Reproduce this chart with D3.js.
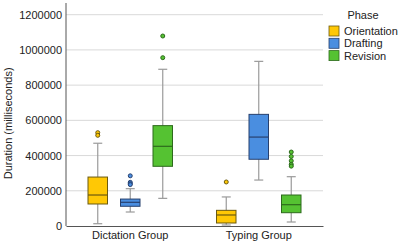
<!DOCTYPE html>
<html><head><meta charset="utf-8">
<script src="https://cdn.jsdelivr.net/npm/d3@7"></script>
<style>body{margin:0;background:#fff}svg{display:block}text{font-family:Arial,"Liberation Sans",sans-serif;fill:#222}</style>
</head><body><svg id="c" width="400" height="244"></svg>
<script>
const groups = ["Dictation Group", "Typing Group"];
const phases = ["Orientation", "Drafting", "Revision"];
const yTicks = [0, 200000, 400000, 600000, 800000, 1000000, 1200000];
// [whiskerLow, Q1, median, Q3, whiskerHigh]
const dictationStats = [
  [13000, 125000, 176000, 278000, 470000],
  [79500, 112000, 134600, 153000, 212000],
  [157000, 339000, 452600, 570000, 890000]
];
const typingStats = [
  [5700, 17000, 62500, 89000, 165000],
  [261000, 379000, 505000, 634000, 935000],
  [22700, 75500, 121000, 176000, 280000]
];
const dictationOutliers = [
  [530000, 515000],
  [285000, 248000, 240000, 235000],
  [1079000, 956000]
];
const typingOutliers = [
  [250000],
  [],
  [420000, 395000, 370000, 350000, 340000]
];
const fills = ["#FFC805", "#4A8EE0", "#55C232"];
const strokes = ["#6b5a10", "#27406e", "#2d6a1c"];

const svg = d3.select("#c");
const L = 66, R = 323, T = 14.7, B = 226;
const y = d3.scaleLinear().domain([0, 1200000]).range([B, T]);
const x = d3.scaleBand().domain(groups).range([L, R]);
const xp = d3.scalePoint().domain(phases).range([-32.5, 32.5]);
const bw = 19.5, cap = 9;

// gridlines
svg.append("g").selectAll("line").data(yTicks.filter(d => d > 0)).join("line")
  .attr("x1", L).attr("x2", R).attr("y1", d => y(d)).attr("y2", d => y(d))
  .attr("stroke", "#d9d9d9").attr("stroke-width", 1);

// y axis
const ya = svg.append("g").attr("transform", `translate(${L},0)`)
  .call(d3.axisLeft(y).tickValues(yTicks).tickFormat(d3.format("d")).tickSize(0).tickPadding(4));
ya.select(".domain").remove();
ya.selectAll("text").attr("font-size", 11).attr("font-family", "Arial, 'Liberation Sans', sans-serif").attr("fill", "#222");
svg.append("line").attr("x1", L).attr("x2", L).attr("y1", 3).attr("y2", B).attr("stroke", "#555");

// x axis
const xa = svg.append("g").attr("transform", `translate(0,${B})`)
  .call(d3.axisBottom(x).tickSize(0).tickPadding(5));
xa.select(".domain").attr("stroke", "#555");
xa.selectAll("text").attr("font-size", 11).attr("font-family", "Arial, 'Liberation Sans', sans-serif").attr("fill", "#222");

// y label
svg.append("text").attr("transform", `translate(12,${(T + B) / 2 + 3}) rotate(-90)`)
  .attr("text-anchor", "middle").attr("font-size", 11).text("Duration (milliseconds)");

const data = [];
groups.forEach((g, gi) => {
  const st = gi === 0 ? dictationStats : typingStats;
  const ou = gi === 0 ? dictationOutliers : typingOutliers;
  phases.forEach((p, pi) => data.push({g, p, pi, s: st[pi], o: ou[pi]}));
});

const bx = svg.append("g").selectAll("g").data(data).join("g")
  .attr("transform", d => `translate(${x(d.g) + x.bandwidth() / 2 + xp(d.p)},0)`);
bx.append("line").attr("x1", 0).attr("x2", 0).attr("y1", d => y(d.s[0])).attr("y2", d => y(d.s[4]))
  .attr("stroke", "#9a9a9a").attr("stroke-width", 1.2);
bx.append("line").attr("x1", -cap / 2).attr("x2", cap / 2).attr("y1", d => y(d.s[4])).attr("y2", d => y(d.s[4]))
  .attr("stroke", "#9a9a9a").attr("stroke-width", 1.2);
bx.append("line").attr("x1", -cap / 2).attr("x2", cap / 2).attr("y1", d => y(d.s[0])).attr("y2", d => y(d.s[0]))
  .attr("stroke", "#9a9a9a").attr("stroke-width", 1.2);
bx.append("rect").attr("x", -bw / 2).attr("width", bw)
  .attr("y", d => y(d.s[3])).attr("height", d => y(d.s[1]) - y(d.s[3]))
  .attr("fill", d => fills[d.pi]).attr("stroke", d => strokes[d.pi]).attr("stroke-width", 1);
bx.append("line").attr("x1", -bw / 2).attr("x2", bw / 2).attr("y1", d => y(d.s[2])).attr("y2", d => y(d.s[2]))
  .attr("stroke", d => strokes[d.pi]).attr("stroke-width", 1.2);
bx.each(function(d) {
  d3.select(this).selectAll("circle").data(d.o).join("circle")
    .attr("cx", 0).attr("cy", v => y(v)).attr("r", 2)
    .attr("fill", fills[d.pi]).attr("stroke", strokes[d.pi]).attr("stroke-width", 1);
});

// legend
const lg = svg.append("g");
lg.append("text").attr("x", 363).attr("y", 19).attr("text-anchor", "middle").attr("font-size", 11).text("Phase");
const li = lg.selectAll("g.i").data(phases).join("g").attr("class", "i")
  .attr("transform", (d, i) => `translate(329,${26 + i * 12.3})`);
li.append("rect").attr("width", 10).attr("height", 10).attr("fill", (d, i) => fills[i]).attr("stroke", (d, i) => strokes[i]).attr("stroke-width", 0.8);
li.append("text").attr("x", 15).attr("y", 9).attr("font-size", 11).text(d => d);
</script></body></html>
